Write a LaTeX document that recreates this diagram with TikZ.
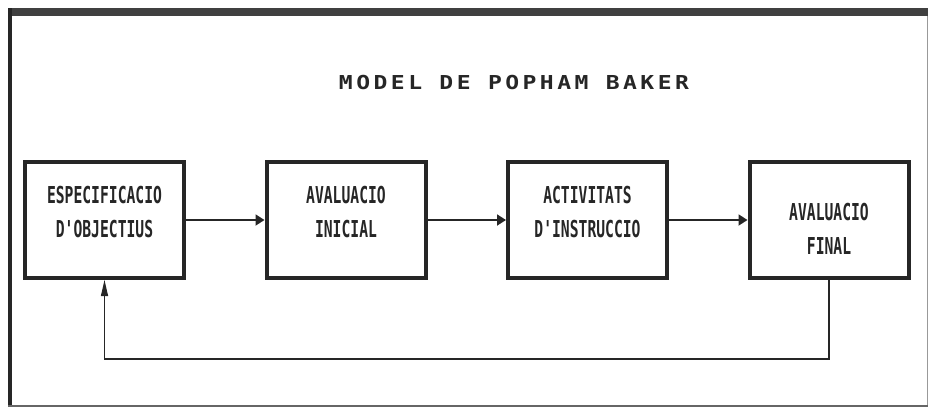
\documentclass[tikz,border=0pt]{standalone}
\usepackage{fontspec}
\usetikzlibrary{arrows.meta}
\newfontfamily\stagefont[FakeStretch=0.63]{DejaVu Sans Mono}
\newfontfamily\titlefont[FakeStretch=1.2,LetterSpace=18]{DejaVu Sans Mono}
\begin{document}
\begin{tikzpicture}
          \tikzstyle{stage} = [rectangle, draw=black!85, line width=4pt, minimum width=159pt, minimum height=116pt, inner sep=0pt, align=center, font=\stagefont\bfseries\fontsize{23.3}{34}\selectfont, text=black!85, node distance=241.5pt]
          \tikzstyle{flow} = [draw=black!85, line width=1.8pt, -{Triangle[length=9pt,width=11pt]}]
          \tikzstyle{back} = [draw=black!85, line width=1.2pt, -{Triangle[length=16pt,width=7pt]}]
        \useasboundingbox (0,0) rectangle (928pt,-407pt);
        % frame
        \draw[black!75, line width=8pt] (8pt,-12pt) -- (928pt,-12pt);
        \draw[black!85, line width=4pt] (10pt,-8pt) -- (10pt,-406pt);
        \draw[black!60, line width=2pt] (8pt,-405.5pt) -- (928pt,-405.5pt);
        \draw[black!40, line width=1pt] (927pt,-16pt) -- (927pt,-405pt);
        \node[font=\titlefont\bfseries\fontsize{19.2}{20}\selectfont, text=black!85, anchor=base] (title) at (514pt,-89pt) {MODEL DE POPHAM BAKER};
        \node[stage] (espec) at (104.5pt,-220pt) {ESPECIFICACIO\\D'OBJECTIUS\rule[-17pt]{0pt}{17pt}};
        \node[stage] (inicial) [right of=espec] {AVALUACIO\\INICIAL\rule[-17pt]{0pt}{17pt}};
        \node[stage] (activ) [right of=inicial] {ACTIVITATS\\D'INSTRUCCIO\rule[-17pt]{0pt}{17pt}};
        \node[stage] (final) [right of=activ] {\rule{0pt}{35pt}AVALUACIO\\FINAL};
        \begin{scope}
          \draw[flow] (espec) -- (inicial);
          \draw[flow] (inicial) -- (activ);
          \draw[flow] (activ) -- (final);
          \draw[back] (final.south) -- ++(0,-79pt) -| (espec.south);
        \end{scope}
      \end{tikzpicture}
\end{document}
